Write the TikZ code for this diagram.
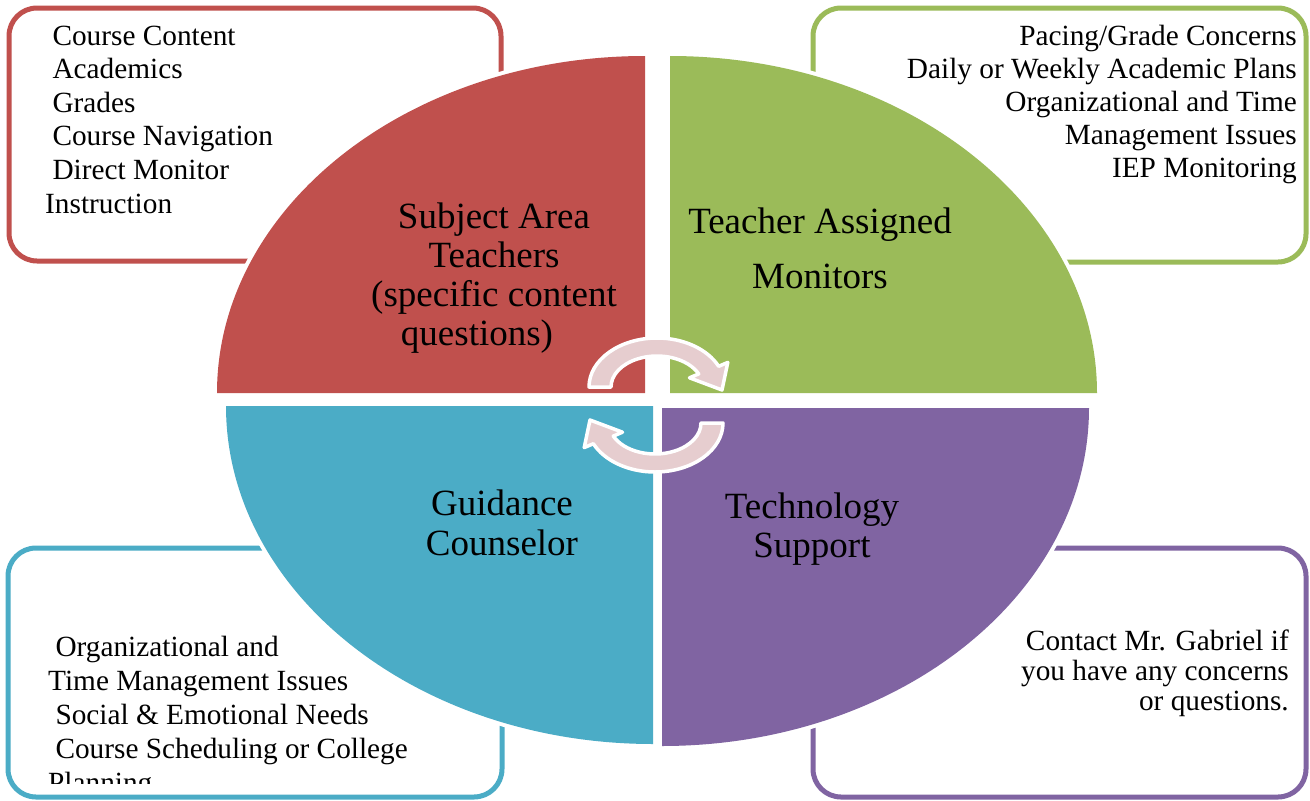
\documentclass[tikz,border=0pt]{standalone}
\usepackage{fontspec}
\setmainfont{Liberation Serif}
\definecolor{quadred}{HTML}{C0504D}
\definecolor{quadgreen}{HTML}{9BBB59}
\definecolor{quadcyan}{HTML}{4BACC6}
\definecolor{quadpurple}{HTML}{8064A2}
\definecolor{arrowpink}{HTML}{E6CDCF}
\tikzset{
  listbox/.style={draw=#1,line width=5pt,rounded corners=28pt,fill=white},
  quadrant/.style={fill=#1,preaction={draw=white,line width=8pt}},
  listtext/.style={font=\fontsize{29.3}{33}\selectfont,inner sep=0pt},
  bigtext/.style={font=\fontsize{37}{39}\selectfont,inner sep=0pt,anchor=base},
  cyclearrow/.style={fill=arrowpink,draw=white,line width=3.5pt,line join=round}
}

\begin{document}
\begin{tikzpicture}[x=1pt,y=-1pt]
    \useasboundingbox (0,0) rectangle (1310,801);

    % the four boxes with the lists
    \draw[listbox=quadred]    (9,8) rectangle (501,261);
    \draw[listbox=quadgreen]  (813,8) rectangle (1306,262);
    \draw[listbox=quadcyan]   (8,548) rectangle (502,797);
    \draw[listbox=quadpurple] (813,548) rectangle (1306,797);

    % quarter ellipses
    \path[quadrant=quadred]    (645,393) -- (217,393) arc[start angle=180,end angle=270,x radius=428,y radius=337] -- cycle;
    \path[quadrant=quadgreen]  (670,393) -- (670,56) arc[start angle=270,end angle=360,x radius=427,y radius=337] -- cycle;
    \path[quadrant=quadcyan]   (653,406) -- (226,406) arc[start angle=180,end angle=90,x radius=427,y radius=338] -- cycle;
    \path[quadrant=quadpurple] (662,408) -- (1089,408) arc[start angle=0,end angle=90,x radius=427,y radius=338] -- cycle;

    % circular arrows in the middle
    \path[cyclearrow] (589,387) arc[start angle=180,end angle=335,x radius=68,y radius=49]
        -- (727.8,362.4) -- (722,390) -- (689.5,377.8) -- (698.7,373.9)
        arc[start angle=335,end angle=180,x radius=46,y radius=31] -- cycle;
    \begin{scope}[rotate around={180:(656,405)}]
    \path[cyclearrow] (589,387) arc[start angle=180,end angle=335,x radius=68,y radius=49]
        -- (727.8,362.4) -- (722,390) -- (689.5,377.8) -- (698.7,373.9)
        arc[start angle=335,end angle=180,x radius=46,y radius=31] -- cycle;
    \end{scope}

    % quadrant labels
    \node[bigtext] (subjlabel1) at (494,228) {Subject Area};
    \node[bigtext] (subjlabel2) at (494,267) {Teachers};
    \node[bigtext] (subjlabel3) at (494,306) {(specific content};
    \node[bigtext] (subjlabel4) at (477,345) {questions)};
    \node[bigtext] (monlabel1) at (820,233) {Teacher Assigned};
    \node[bigtext] (monlabel2) at (820,288) {Monitors};
    \node[bigtext] (techlabel1) at (812,518) {Technology};
    \node[bigtext] (techlabel2) at (812,557) {Support};
    \node[bigtext] (guidlabel1) at (502,515) {Guidance};
    \node[bigtext] (guidlabel2) at (502,555) {Counselor};

    % lists
    \foreach \txt [count=\i] in {\ Course Content,\ Academics,\ Grades,\ Course Navigation,\ Direct Monitor,Instruction}
             \node[listtext,anchor=base west] (subjlist\i) at (45,{45+33.6*(\i-1)}) {\txt};
    \foreach \txt [count=\i] in {Pacing/Grade Concerns,Daily or Weekly Academic Plans,Organizational and Time,Management Issues,IEP Monitoring}
             \node[listtext,anchor=base east] (monlist\i) at (1297,{45+33*(\i-1)}) {\txt};
    \foreach \txt [count=\i] in {Contact Mr. Gabriel if,you have any concerns,or questions.}
             \node[listtext,anchor=base east] (techlist\i) at (1289,{650+30*(\i-1)}) {\txt};
    \begin{scope}
    \clip (0,0) rectangle (1310,783);
    \foreach \txt [count=\i] in {\ Organizational and,Time Management Issues,\ Social \& Emotional Needs,\ Course Scheduling or College,Planning}
             \node[listtext,anchor=base west] (guidlist\i) at (48,{656+34.2*(\i-1)}) {\txt};
    \end{scope}

\end{tikzpicture}
\end{document}
